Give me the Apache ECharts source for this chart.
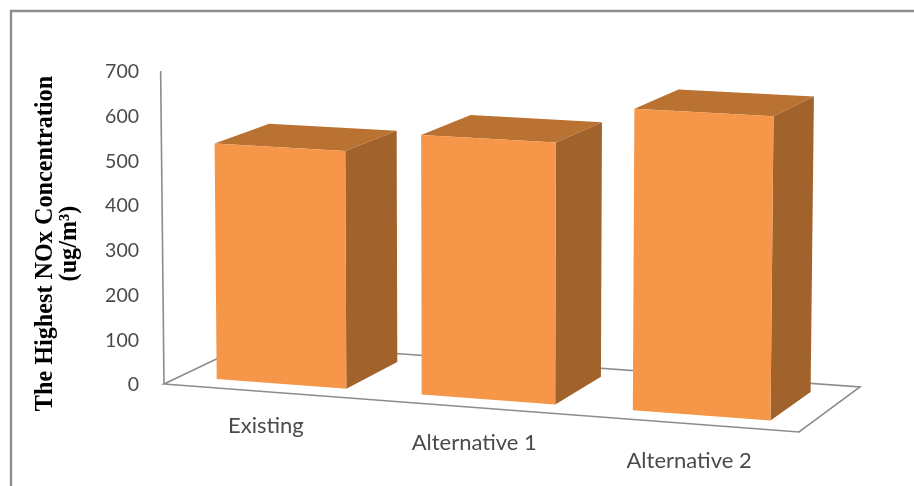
<!DOCTYPE html>
<html>
<head>
<meta charset="utf-8">
<style>html,body{margin:0;padding:0;background:#fff}#chart{width:914px;height:486px}</style>
<script src="https://cdn.jsdelivr.net/npm/echarts@6/dist/echarts.min.js"></script>
</head>
<body>
<div id="chart"></div>
<script>
// Highest NOx concentration per scenario
const categories = ['Existing', 'Alternative 1', 'Alternative 2'];
const noxValues = [530, 575, 658];
const yTicks = { min: 0, max: 700, interval: 100 };

// Perspective set-up of the 3D floor: the four floor corners on the page
const floorCorners = { frontLeft: [164, 384], frontRight: [799, 432], backRight: [860, 387], backLeft: [250, 343] };
const barBandShare = 0.636;   // bar width as a share of its category band
const barDepth = [0.18, 0.82]; // front and back of the bars on the floor, 0..1
const verticalSpread = 3.4e-5; // verticals lean away from the page centre as they rise
const spreadCentre = 480;

const colors = { front: '#F59648', side: '#A2622B', top: '#B97232', line: '#8C8C8C', label: '#4A4A4A', frame: '#8E8E8E' };

// Unit-square to quad homography for the floor plane
function makeFloor(q) {
  const [x0, y0] = q.frontLeft, [x1, y1] = q.frontRight, [x2, y2] = q.backRight, [x3, y3] = q.backLeft;
  const dx1 = x1 - x2, dx2 = x3 - x2, sx = x0 - x1 + x2 - x3;
  const dy1 = y1 - y2, dy2 = y3 - y2, sy = y0 - y1 + y2 - y3;
  const den = dx1 * dy2 - dx2 * dy1;
  const g = (sx * dy2 - dx2 * sy) / den;
  const h = (dx1 * sy - sx * dy1) / den;
  const a = x1 - x0 + g * x1, b = x3 - x0 + h * x3;
  const d = y1 - y0 + g * y1, e = y3 - y0 + h * y3;
  return function (u, depth) {
    const w = 1 + g * u + h * depth;
    return { x: (a * u + b * depth + x0) / w, y: (d * u + e * depth + y0) / w, w: w };
  };
}
const floorAt = makeFloor(floorCorners);

// Projects a value standing on the floor point (u, depth), using the value axis scale
function projector(api) {
  const zeroY = api.coord([0, 0])[1];
  return function (u, depth, value) {
    const f = floorAt(u, depth);
    const rise = (zeroY - api.coord([0, value])[1]) / f.w;
    return [f.x + (f.x - spreadCentre) * verticalSpread * rise, f.y - rise];
  };
}

function renderFloor(params, api) {
  const p = projector(api);
  return {
    type: 'group',
    children: [
      { type: 'polygon', shape: { points: [p(0, 0, 0), p(1, 0, 0), p(1, 1, 0), p(0, 1, 0)] }, style: { stroke: colors.line, lineWidth: 1.6, fill: '#fff' } },
      { type: 'polyline', shape: { points: [p(0, 0, 0), p(0, 0, yTicks.max)] }, style: { stroke: colors.line, lineWidth: 1.6, fill: null } }
    ]
  };
}

function renderBar(params, api) {
  const cs = params.coordSys;
  const p = projector(api);
  const centre = (api.coord([api.value(0), 0])[0] - cs.x) / cs.width;
  const half = api.size([1, 0])[0] * barBandShare / 2 / cs.width;
  const v = api.value(1);
  const [df, db] = barDepth;
  const L = centre - half, R = centre + half;
  const base = p(centre, 0, 0);
  return {
    type: 'group',
    children: [
      { type: 'polygon', shape: { points: [p(L, df, v), p(R, df, v), p(R, db, v), p(L, db, v)] }, style: { fill: colors.top } },
      { type: 'polygon', shape: { points: [p(R, df, 0), p(R, db, 0), p(R, db, v), p(R, df, v)] }, style: { fill: colors.side } },
      { type: 'polygon', shape: { points: [p(L, df, 0), p(R, df, 0), p(R, df, v), p(L, df, v)] }, style: { fill: colors.front } },
      { type: 'text', style: { text: categories[api.value(0)], x: base[0], y: base[1] + 33.5 + 4.5 * centre,
          align: 'center', verticalAlign: 'middle', fontFamily: 'Lato', fontSize: 22, fill: colors.label } }
    ]
  };
}

const chart = echarts.init(document.getElementById('chart'), null, { renderer: 'canvas' });
chart.setOption({
  animation: false,
  backgroundColor: '#fff',
  grid: { left: 164, top: 72, width: 635, height: 313 },
  xAxis: { type: 'category', data: categories, axisLine: { show: false }, axisTick: { show: false }, axisLabel: { show: false } },
  yAxis: {
    type: 'value', min: yTicks.min, max: yTicks.max, interval: yTicks.interval,
    axisLine: { show: false }, axisTick: { show: false }, splitLine: { show: false },
    axisLabel: { margin: 25, fontFamily: 'Lato', fontSize: 19.5, color: colors.label },
    name: 'The Highest NOx Concentration\n(ug/m³)',
    nameLocation: 'middle', nameRotate: 90, nameGap: 82,
    nameTextStyle: { fontFamily: 'Liberation Serif', fontWeight: 'bold', fontSize: 24.2, lineHeight: 24.5, color: '#000', padding: [0, 30, 0, 0] }
  },
  graphic: [
    { type: 'polyline', silent: true, shape: { points: [[11, 486], [11, 11], [914, 11]] }, style: { stroke: colors.frame, lineWidth: 2.4, fill: null } }
  ],
  series: [
    { type: 'custom', clip: false, silent: true, data: [[0, 0]], encode: { x: 0, y: 1 }, renderItem: renderFloor, z: 1 },
    { type: 'custom', clip: false, silent: true, data: categories.map((c, i) => [i, noxValues[i]]), encode: { x: 0, y: 1 }, renderItem: renderBar, z: 2 }
  ]
});
</script>
</body>
</html>
